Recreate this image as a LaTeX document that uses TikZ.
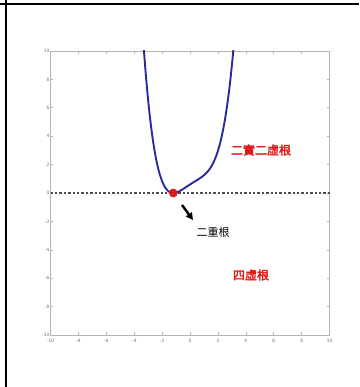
\documentclass[tikz,border=0pt]{standalone}
\usepackage{fontspec}
\usepackage{tikz}
\usetikzlibrary{arrows.meta, positioning}
\newfontfamily\cjk{Noto Sans CJK TC}
\newfontfamily\cjkbf[FakeBold=2.5]{Noto Sans CJK TC}
\definecolor{curveblue}{HTML}{2A2AA0}
\definecolor{rootred}{HTML}{E01818}
\definecolor{framegray}{HTML}{B4B4B4}

\begin{document}
\begin{tikzpicture}[
        x=1pt, y=-1pt,
        redlabel/.style={text=rootred, font=\cjkbf\fontsize{12}{13}\selectfont, inner sep=0pt},
        blacklabel/.style={text=black, font=\cjk\fontsize{11}{12}\selectfont, inner sep=0pt},
        ticklabel/.style={text=black!60, font=\sffamily\fontsize{5}{6}\selectfont, inner sep=1pt},
        arrow/.style={-{Triangle[length=7pt, width=7pt]}, line width=2.4pt},
    ]
        \useasboundingbox (0,0) rectangle (359,387);
        %--- table cell ---
        \draw[line width=2pt] (0,4.5) -- (359,4.5);
        \draw[line width=2pt] (6,0) -- (6,387);

        %--- plot ---
        \begin{scope}[shift={(190pt,-193pt)}, x=13.95pt, y=14.2pt]
            \draw[framegray, line width=0.7pt] (-10,-10) rectangle (10,10);
            \foreach \t in {-10,-8,...,10} {
                \draw[framegray, line width=0.6pt] (\t,-10) -- ++(0,0.2) (\t,10) -- ++(0,-0.2);
                \draw[framegray, line width=0.6pt] (-10,\t) -- ++(0.2,0) (10,\t) -- ++(-0.2,0);
                \node[ticklabel, anchor=north] at (\t,-10.2) {\t};
                \node[ticklabel, anchor=east]  at (-10,\t) {\t};
            }
            % zero line
            \draw[black!70, line width=2.4pt, dotted] (-10,0) -- (10.1,0);
            % curve
            \begin{scope}
                \clip (-10,-10) rectangle (10,10);
                \draw[curveblue, line width=1.9pt, domain=-3.32:3.12, samples=120, smooth]
                    plot (\x, {0.094*(\x+1.2)^2*((\x-1.336)^2+2.64)});
            \end{scope}
            \fill[rootred] (-1.2,0) circle (4.4pt);
            \coordinate (root) at (-1.2,0);
        \end{scope}

        %--- labels ---
        \coordinate (arrstart) at (182,205);
        \coordinate (arrend)   at (193,220);
        \draw[arrow] (arrstart) -- (arrend);

        \node[blacklabel] (double) at (213,232) {二重根};
        \node[redlabel]   (mixed)  at (261,150) {二實二虛根};
        \node[redlabel]   (fourc)  at (251,275) {四虛根};
\end{tikzpicture}
\end{document}
